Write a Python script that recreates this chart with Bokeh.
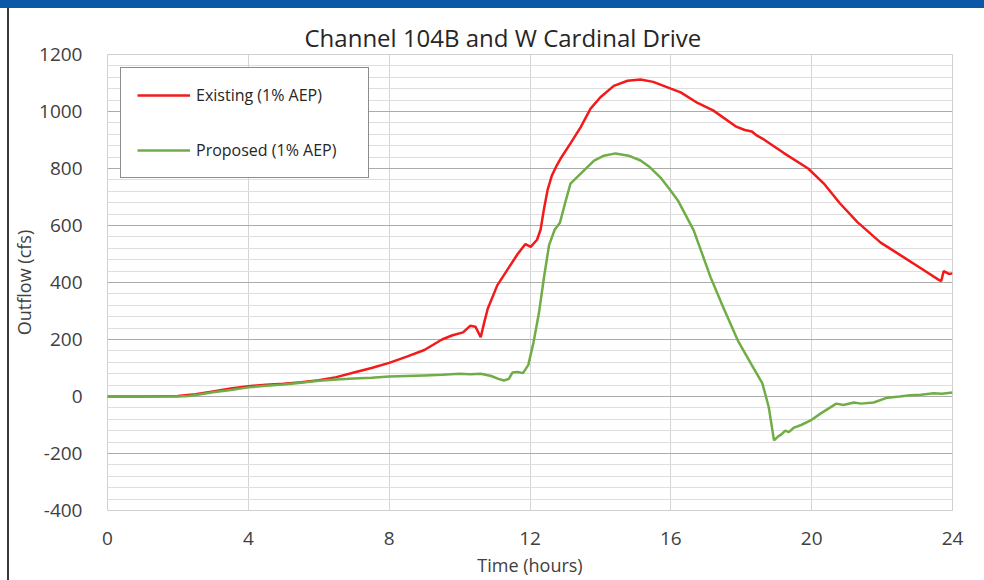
from bokeh.plotting import figure
from bokeh.models import (Range1d, FixedTicker, Legend, LegendItem, Div, Spacer,
                          PrintfTickFormatter)
from bokeh.layouts import column, row
from bokeh.embed import file_html
from bokeh.resources import INLINE

# Outflow hydrographs (hours, cfs)
existing_t = [0, 1, 2, 2.5, 3, 3.5, 4, 4.5, 5, 5.5, 6, 6.5, 7, 7.5, 8, 8.5, 9,
              9.5, 9.8, 10.1, 10.3, 10.45, 10.6, 10.7, 10.8, 11.07, 11.36, 11.65,
              11.87, 12.02, 12.2, 12.3, 12.4, 12.5, 12.62, 12.75, 12.87, 13.15,
              13.44, 13.72, 14.0, 14.38, 14.77, 15.14, 15.5, 16.0, 16.28, 16.76,
              17.2, 17.84, 18.1, 18.3, 18.45, 18.6, 19.2, 19.9, 20.34, 20.8,
              21.3, 21.96, 22.53, 23.1, 23.6, 23.68, 23.75, 23.9, 24]
existing_q = [0, 0, 2, 8, 18, 28, 36, 41, 45, 50, 57, 68, 84, 100, 118, 140, 163,
              200, 215, 225, 248, 245, 208, 260, 308, 390, 445, 500,
              535, 525, 550, 585, 660, 725, 775, 808, 835, 888,
              945, 1010, 1050, 1090, 1108, 1112, 1104, 1080, 1067, 1030,
              1004, 948, 935, 930, 915, 905, 855, 800, 748, 678,
              612, 540, 495, 450, 410, 405, 440, 430, 432]

proposed_t = [0, 1, 2, 2.3, 2.6, 3, 3.5, 4, 4.5, 5, 5.5, 6, 6.5, 7, 7.5, 8, 8.5,
              9, 9.5, 10, 10.3, 10.6, 10.9, 11.1, 11.26, 11.4, 11.5, 11.65, 11.8,
              11.95, 12.1, 12.25, 12.4, 12.54, 12.7, 12.85, 13.0, 13.15, 13.44,
              13.82, 14.1, 14.43, 14.8, 15.14, 15.4, 15.7, 15.95, 16.2, 16.65,
              17.13, 17.5, 17.9, 18.3, 18.6, 18.78, 18.93, 19.05, 19.15, 19.25,
              19.35, 19.5, 19.7, 19.97, 20.25, 20.7, 20.9, 21.2, 21.4, 21.76,
              22.15, 22.5, 22.8, 23.1, 23.47, 23.7, 24]
proposed_q = [0, 0, 0, 2, 7, 15, 23, 32, 38, 42, 48, 55, 60, 63, 66, 70, 72,
              74, 76, 80, 78, 80, 72, 62, 56, 62, 84, 86, 82,
              110, 190, 290, 420, 530, 585, 610, 680, 747, 782,
              828, 845, 853, 845, 828, 805, 769, 730, 688, 583,
              418, 310, 197, 110, 46, -37, -154, -140, -132, -120,
              -125, -109, -100, -84, -60, -25, -30, -21, -25, -21,
              -4, 0, 4, 6, 11, 10, 14]

x_ticks = [0, 4, 8, 12, 16, 20, 24]
y_ticks = [-400, -200, 0, 200, 400, 600, 800, 1000, 1200]
y_minor = list(range(-400, 1201, 40))

FONT = "Open Sans"
TEXT = "#404040"

p = figure(width=975, height=572, output_backend="svg", toolbar_location=None,
           x_range=Range1d(0, 24), y_range=Range1d(-400, 1200),
           min_border_left=98, min_border_right=32, min_border_top=46,
           min_border_bottom=70, background_fill_color="white",
           border_fill_color="white")

p.title.text = "Channel 104B and W Cardinal Drive"
p.title.align = "left"
p.title.offset = 197
p.title.text_font = FONT
p.title.text_font_size = "24px"
p.title.text_font_style = "normal"
p.title.text_color = "#262626"
p.title.standoff = 2

p.xaxis.ticker = FixedTicker(ticks=x_ticks)
p.yaxis.ticker = FixedTicker(ticks=y_ticks, minor_ticks=y_minor)
for ax in (p.xaxis[0], p.yaxis[0]):
    ax.formatter = PrintfTickFormatter(format="%d")
    ax.axis_line_color = None
    ax.major_tick_line_color = None
    ax.minor_tick_line_color = None
    ax.major_label_text_font = FONT
    ax.major_label_text_font_size = "19px"
    ax.major_label_text_color = TEXT
    ax.axis_label_text_font = FONT
    ax.axis_label_text_font_size = "18px"
    ax.axis_label_text_font_style = "normal"
    ax.axis_label_text_color = TEXT
p.xaxis.axis_label = "Time (hours)"
p.yaxis.axis_label = "Outflow (cfs)"
p.xaxis.major_label_standoff = 15
p.yaxis.major_label_standoff = 19
p.xaxis.axis_label_standoff = 5
p.yaxis.axis_label_standoff = 0

p.ygrid.grid_line_color = "#ABABAB"
p.ygrid.grid_line_width = 1.2
p.ygrid.minor_grid_line_color = "#DEDEDE"
p.xgrid.grid_line_color = "#D4D4D4"
p.outline_line_color = "#D0D0D0"

r_ex = p.line(existing_t, existing_q, line_color="#F21A1A", line_width=2.5)
r_pr = p.line(proposed_t, proposed_q, line_color="#70AD47", line_width=2.5)

legend = Legend(items=[LegendItem(label="Existing (1% AEP)", renderers=[r_ex]),
                       LegendItem(label="Proposed (1% AEP)", renderers=[r_pr])],
                location=(13, 332), padding=16, spacing=33,
                glyph_width=53, glyph_height=16, label_height=16,
                label_width=156, label_standoff=6,
                label_text_font=FONT, label_text_font_size="16px",
                label_text_color="#262626",
                border_line_color="#1A1A1A", border_line_width=1.5,
                background_fill_color="white", background_fill_alpha=1.0)
p.add_layout(legend, "center")

band = Div(width=984, height=8, margin=0,
           styles={"background-color": "#0B58A6"})
edge = Div(width=2, height=572, margin=0,
           styles={"background-color": "#3A3A3A"})
gap = Spacer(width=7, height=572, margin=0)

page = column(band, row(gap, edge, p, spacing=0), spacing=0)

open("out.html", "w").write(file_html(page, INLINE))
